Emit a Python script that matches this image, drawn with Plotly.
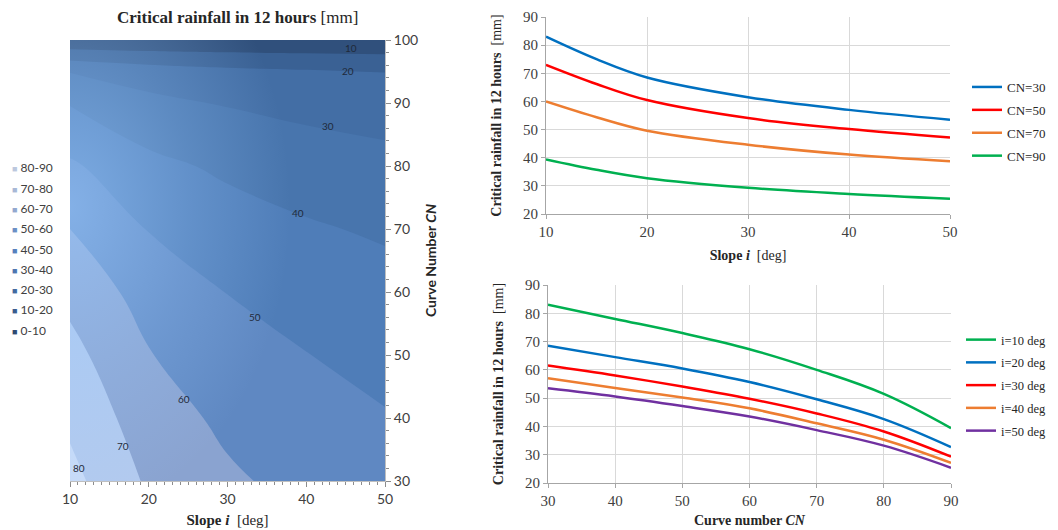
import base64
import plotly.graph_objects as go

# ---------------- data ----------------
slopes = [10, 20, 30, 40, 50]                      # slope i [deg]
cn_values = [30, 40, 50, 60, 70, 80, 90]           # curve number CN

# critical rainfall [mm] rows = CN, columns = slope
rain_cn30 = [83.0, 68.5, 61.5, 57.0, 53.5]
rain_cn40 = [78.0, 64.5, 58.0, 53.6, 50.6]
rain_cn50 = [73.0, 60.5, 54.1, 50.2, 47.2]
rain_cn60 = [67.3, 55.7, 49.8, 46.4, 43.5]
rain_cn70 = [60.0, 49.6, 44.6, 41.1, 38.7]
rain_cn80 = [51.5, 42.6, 38.2, 35.3, 33.2]
rain_cn90 = [39.4, 32.7, 29.3, 27.1, 25.4]
rain_cn95 = [29.6, 25.0, 22.5, 21.0, 19.8]
rain_cn100 = [2.0, 2.0, 2.0, 2.0, 2.0]

contour_cn = [30, 40, 50, 60, 70, 80, 90, 95, 100]
contour_z = [rain_cn30, rain_cn40, rain_cn50, rain_cn60, rain_cn70,
             rain_cn80, rain_cn90, rain_cn95, rain_cn100]

band_labels = ["0-10", "10-20", "20-30", "30-40", "40-50",
               "50-60", "60-70", "70-80", "80-90"]
band_colors = ["#30507c", "#3a6194", "#436ea5", "#4875ad", "#4f7db8",
               "#5f88c2", "#8aa3d0", "#b3caee", "#cadcf8"]
legend_colors = ["#2e4a72", "#395c8e", "#426aa0", "#4d76b0", "#5580bd",
                 "#6b8fc5", "#93a8cf", "#a8b8d6", "#bcc8de"]
contour_levels = [10, 20, 30, 40, 50, 60, 70, 80]
# label positions (slope, CN) as placed in the original chart
label_pos = [(45.7, 98.7), (45.3, 95.0), (42.8, 86.3), (39.0, 72.5),
             (33.5, 56.0), (24.5, 43.0), (16.7, 35.5), (11.2, 32.0)]

# top right: rainfall vs slope for selected CN (extra reading at i=15)
top_slopes = [10, 15, 20, 30, 40, 50]
top_cn30 = [83.0, 75.0, 68.5, 61.5, 57.0, 53.5]
top_cn50 = [73.0, 66.2, 60.5, 54.1, 50.2, 47.2]
top_cn70 = [60.0, 54.4, 49.6, 44.6, 41.1, 38.7]
top_cn90 = [39.4, 35.7, 32.7, 29.3, 27.1, 25.4]
top_names = ["CN=30", "CN=50", "CN=70", "CN=90"]
top_colors = ["#0070c0", "#ff0000", "#ed7d31", "#00b050"]

# bottom right: rainfall vs CN for selected slopes
rows = [rain_cn30, rain_cn40, rain_cn50, rain_cn60, rain_cn70, rain_cn80, rain_cn90]
bottom_names = ["i=10 deg", "i=20 deg", "i=30 deg", "i=40 deg", "i=50 deg"]
bottom_colors = ["#00b050", "#0070c0", "#ff0000", "#ed7d31", "#7030a0"]

OFF = 8                    # page body margin of the browser
W, H = 1058 - OFF, 530 - OFF
def px_x(p): return (p - OFF) / W
def px_y(p): return 1 - (p - OFF) / H

SERIF = "Liberation Serif"
SANS = "Lato"

fig = go.Figure()

# ---------------- contour ----------------
cs = []
n = len(band_colors)
edges = [0.0] + [0.15 + 0.1 * k for k in range(n - 1)] + [1.0]
for k, c in enumerate(band_colors):
    cs.append([edges[k], c])
    cs.append([edges[k + 1], c])

fig.add_trace(go.Contour(
    x=slopes, y=contour_cn, z=contour_z,
    xaxis="x", yaxis="y",
    colorscale=cs, showscale=False,
    autocontour=False,
    contours=dict(start=0, end=90, size=10, coloring="fill", showlines=False, showlabels=False),
    line=dict(width=0, smoothing=1.3),
    hoverinfo="skip",
))

# soft light glare over the left part of the surface (style only)
svg = ("<svg xmlns='http://www.w3.org/2000/svg' width='315' height='441' viewBox='0 0 315 441' "
       "preserveAspectRatio='none'><defs><radialGradient id='g' cx='0' cy='0.38' r='0.7'>"
       "<stop offset='0' stop-color='#9ccbff' stop-opacity='0.6'/>"
       "<stop offset='0.55' stop-color='#9ccbff' stop-opacity='0.25'/>"
       "<stop offset='1' stop-color='#9ccbff' stop-opacity='0'/></radialGradient></defs>"
       "<rect width='315' height='441' fill='url(#g)'/></svg>")
glare_src = "data:image/svg+xml;base64," + base64.b64encode(svg.encode()).decode()

annotations = []
for lvl, (sx, sy) in zip(sorted(contour_levels), label_pos):
    annotations.append(dict(x=sx, y=sy, xref="x", yref="y", text=str(lvl), showarrow=False,
                            font=dict(family=SANS, size=10, color="#1f2a3a")))

# left legend as text
for k, (lab, col) in enumerate(zip(band_labels, legend_colors)):
    ypix = 330 - k * 20.25
    annotations.append(dict(x=px_x(10), y=px_y(ypix), xref="paper", yref="paper",
                            xanchor="left", yanchor="middle", showarrow=False,
                            text=f"<span style='color:{col};font-size:9px'>■</span> {lab}",
                            font=dict(family=SANS, size=12, color="#404040")))

# left title
annotations.append(dict(x=px_x(237), y=px_y(17), xref="paper", yref="paper",
                        xanchor="center", yanchor="middle", showarrow=False,
                        text="<b>Critical rainfall in 12 hours</b> [mm]",
                        font=dict(family=SERIF, size=17, color="#262626")))

# ---------------- top right lines ----------------
for name, vals, col in zip(top_names, [top_cn30, top_cn50, top_cn70, top_cn90], top_colors):
    fig.add_trace(go.Scatter(x=top_slopes, y=vals, name=name, mode="lines",
                             line=dict(color=col, width=2.5, shape="spline", smoothing=1.0),
                             xaxis="x2", yaxis="y2", legend="legend", legendgroup=name))

# ---------------- bottom right lines ----------------
for j, (name, col) in enumerate(zip(bottom_names, bottom_colors)):
    vals = [r[j] for r in rows]
    fig.add_trace(go.Scatter(x=cn_values, y=vals, name=name, mode="lines",
                             line=dict(color=col, width=2.5, shape="spline", smoothing=1.1),
                             xaxis="x3", yaxis="y3", legend="legend2", legendgroup=name))

tickfont_serif = dict(family=SERIF, size=15, color="#404040")
title_serif = dict(family=SERIF, size=14, color="#262626")
legend_font = dict(family=SERIF, size=13, color="#262626")
legend2_font = dict(family=SERIF, size=12.5, color="#262626")

fig.update_layout(
    width=W, height=H,
    margin=dict(l=0, r=0, t=0, b=0, autoexpand=False),
    paper_bgcolor="white", plot_bgcolor="white",
    showlegend=True,
    annotations=annotations,
    images=[dict(source=glare_src, xref="x", yref="y", x=10, y=100, sizex=40, sizey=70,
                 sizing="stretch", layer="above", xanchor="left", yanchor="top")],
    xaxis=dict(domain=[px_x(70), px_x(385)], range=[10, 50], dtick=10, tick0=10,
               ticks="outside", ticklen=5, tickcolor="#8c8c8c",
               minor=dict(dtick=1, ticks="outside", ticklen=3, tickcolor="#8c8c8c"),
               showline=True, linecolor="#bfbfbf", showgrid=False, zeroline=False,
               tickfont=dict(family=SANS, size=14, color="#404040"),
               title=dict(text="<b>Slope <i>i</i></b>  [deg]", standoff=8,
                          font=dict(family=SERIF, size=15, color="#262626")),
               anchor="y", automargin=False),
    yaxis=dict(domain=[px_y(481), px_y(40)], range=[30, 100], dtick=10, side="right",
               ticks="outside", ticklen=5, tickcolor="#8c8c8c",
               minor=dict(dtick=2, ticks="outside", ticklen=3, tickcolor="#8c8c8c"),
               showline=True, linecolor="#bfbfbf", showgrid=False, zeroline=False,
               tickfont=dict(family=SANS, size=14, color="#404040"),
               title=dict(text="<b>Curve Number <i>CN</i></b>", standoff=9,
                          font=dict(family=SANS, size=14, color="#262626")),
               anchor="x", automargin=False),
    xaxis2=dict(domain=[px_x(546), px_x(950)], range=[10, 50], dtick=10,
                ticks="outside", ticklen=4, tickcolor="#a6a6a6",
                showline=True, linecolor="#a6a6a6", showgrid=True, gridcolor="#d9d9d9",
                zeroline=False, tickfont=tickfont_serif,
                title=dict(text="<b>Slope <i>i</i></b>  [deg]", standoff=11, font=title_serif),
                anchor="y2", automargin=False),
    yaxis2=dict(domain=[px_y(214), px_y(17)], range=[20, 90], dtick=10,
                ticks="outside", ticklen=4, tickcolor="#a6a6a6",
                showline=True, linecolor="#a6a6a6", showgrid=True, gridcolor="#d9d9d9",
                zeroline=False, tickfont=tickfont_serif,
                title=dict(text="<b>Critical rainfall in 12 hours</b>  [mm]", standoff=18, font=title_serif),
                anchor="x2", automargin=False),
    xaxis3=dict(domain=[px_x(548), px_x(951)], range=[30, 90], dtick=10,
                ticks="outside", ticklen=4, tickcolor="#a6a6a6",
                showline=True, linecolor="#a6a6a6", showgrid=True, gridcolor="#d9d9d9",
                zeroline=False, tickfont=tickfont_serif,
                title=dict(text="<b>Curve number <i>CN</i></b>", standoff=7, font=title_serif),
                anchor="y3", automargin=False),
    yaxis3=dict(domain=[px_y(483), px_y(285)], range=[20, 90], dtick=10,
                ticks="outside", ticklen=4, tickcolor="#a6a6a6",
                showline=True, linecolor="#a6a6a6", showgrid=True, gridcolor="#d9d9d9",
                zeroline=False, tickfont=tickfont_serif,
                title=dict(text="<b>Critical rainfall in 12 hours</b>  [mm]", standoff=18, font=title_serif),
                anchor="x3", automargin=False),
    legend=dict(x=px_x(967), y=px_y(72), xanchor="left", yanchor="top",
                font=legend_font, traceorder="grouped", tracegroupgap=3,
                bgcolor="rgba(0,0,0,0)", itemwidth=30),
    legend2=dict(x=px_x(961), y=px_y(325), xanchor="left", yanchor="top",
                 font=legend2_font, traceorder="grouped", tracegroupgap=3.5,
                 bgcolor="rgba(0,0,0,0)", itemwidth=30),
)

fig.write_html("out.html")
